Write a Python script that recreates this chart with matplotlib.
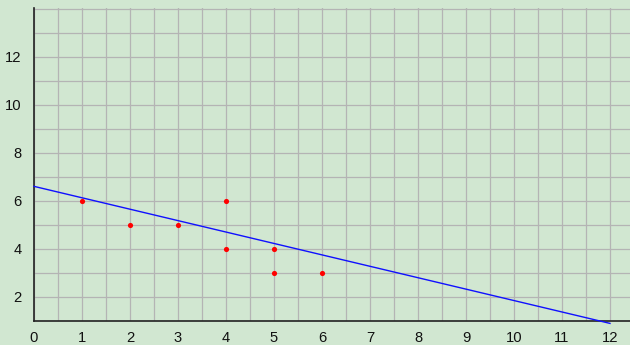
import matplotlib.pyplot as plt
from matplotlib.ticker import MultipleLocator

# scatter points
pts_x = [1, 2, 3, 4, 4, 5, 5, 6]
pts_y = [6, 5, 5, 6, 4, 4, 3, 3]

# trend line end points
line_x = [0, 12]
line_y = [6.61, 0.9]

x_ticks = list(range(0, 13))
y_ticks = [2, 4, 6, 8, 10, 12]

BG = "#d1e7d1"
GRID = "#b4b4b4"

plt.rcParams["font.family"] = ["Liberation Sans", "DejaVu Sans"]

fig = plt.figure(figsize=(6.3, 3.45), dpi=100)
fig.patch.set_facecolor(BG)
ax = fig.add_axes([34 / 630, 24 / 345, 596 / 630, 313 / 345])
ax.set_facecolor(BG)

ax.set_xlim(0, 596 / 48)
ax.set_ylim(1, 1 + 313 / 24)

ax.xaxis.set_minor_locator(MultipleLocator(0.5))
ax.yaxis.set_minor_locator(MultipleLocator(1))
ax.set_xticks(x_ticks)
ax.set_yticks(y_ticks)
ax.grid(which="both", color=GRID, linewidth=0.9)
ax.set_axisbelow(True)

ax.tick_params(which="both", length=0, labelsize=10.6, colors="#111111")
ax.tick_params(axis="x", pad=7)
ax.tick_params(axis="y", pad=9)

for s in ["top", "right"]:
    ax.spines[s].set_visible(False)
for s in ["left", "bottom"]:
    ax.spines[s].set_color("#222222")
    ax.spines[s].set_linewidth(1.2)

ax.plot(line_x, line_y, color="#1010ff", linewidth=1.0, clip_on=False, zorder=3)
ax.scatter(pts_x, pts_y, s=14, color="#ff0000", zorder=4, linewidths=0)

fig.savefig("out.png", dpi=100, facecolor=BG)
